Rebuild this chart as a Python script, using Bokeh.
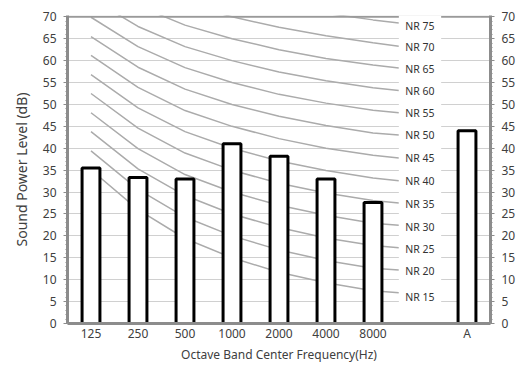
from bokeh.plotting import figure
from bokeh.models import Range1d, LinearAxis, FixedTicker
from bokeh.embed import file_html
from bokeh.resources import INLINE
from bokeh.core.properties import value

# ---- data ----
categories = ["125", "250", "500", "1000", "2000", "4000", "8000", "", "A"]
bar_categories = ["125", "250", "500", "1000", "2000", "4000", "8000", "A"]
bar_values = [35.5, 33.3, 33.0, 41.0, 38.2, 33.0, 27.6, 44.0]

nr_bands = ["125", "250", "500", "1000", "2000", "4000", "8000"]
nr_names = ["NR 15", "NR 20", "NR 25", "NR 30", "NR 35", "NR 40", "NR 45",
            "NR 50", "NR 55", "NR 60", "NR 65", "NR 70", "NR 75"]
nr15 = [35.1, 26.0, 19.4, 15.0, 11.7, 9.3, 7.5]
nr20 = [39.4, 30.6, 24.3, 20.0, 16.8, 14.4, 12.6]
nr25 = [43.8, 35.3, 29.2, 25.0, 21.9, 19.5, 17.8]
nr30 = [48.1, 39.9, 34.0, 30.0, 27.0, 24.7, 22.9]
nr35 = [52.5, 44.6, 38.9, 35.0, 32.0, 29.8, 28.1]
nr40 = [56.8, 49.2, 43.8, 40.0, 37.1, 34.9, 33.2]
nr45 = [61.2, 53.9, 48.6, 45.0, 42.2, 40.0, 38.4]
nr50 = [65.5, 58.5, 53.5, 50.0, 47.3, 45.2, 43.5]
nr55 = [69.9, 63.2, 58.4, 55.0, 52.3, 50.3, 48.7]
nr60 = [74.2, 67.8, 63.2, 60.0, 57.4, 55.4, 53.8]
nr65 = [78.6, 72.5, 68.1, 65.0, 62.5, 60.5, 59.0]
nr70 = [82.9, 77.1, 73.0, 70.0, 67.6, 65.7, 64.1]
nr75 = [87.3, 81.8, 77.9, 75.0, 72.6, 70.8, 69.3]
nr_curves = [nr15, nr20, nr25, nr30, nr35, nr40, nr45, nr50, nr55, nr60, nr65, nr70, nr75]
nr_end = [7.0, 12.2, 17.3, 22.4, 27.5, 32.6, 37.8, 43.0, 48.1, 53.2, 58.3, 63.3, 68.6]
nr_label_y = [6.1, 11.9, 17.0, 22.1, 27.3, 32.5, 37.7, 43.0, 48.0, 53.0, 58.0, 63.0, 68.0]

y_ticks = list(range(0, 71, 5))
y_minor = list(range(0, 71))

FONT = "Noto Sans"
TXT = "#404040"
AX = "#8c8c8c"

idx = {c: i for i, c in enumerate(categories)}
label_x = idx[""]

p = figure(width=518, height=365, x_range=Range1d(-0.5, 8.5), y_range=Range1d(0, 70.3),
           output_backend="svg", toolbar_location=None,
           min_border_left=67, min_border_right=28, min_border_top=15, min_border_bottom=41)
p.outline_line_color = None
p.background_fill_color = "white"
p.border_fill_color = "white"
p.xgrid.visible = False
p.ygrid.ticker = FixedTicker(ticks=y_ticks)
p.ygrid.grid_line_color = "#d0d0d0"
p.ygrid.grid_line_width = 1

ya = p.yaxis[0]
ya.ticker = FixedTicker(ticks=y_ticks, minor_ticks=y_minor)
ya.axis_label = "Sound Power Level (dB)"

ra = LinearAxis(ticker=FixedTicker(ticks=y_ticks, minor_ticks=y_minor))
p.add_layout(ra, "right")
for ax in [ya, ra]:
    ax.axis_line_color = AX
    ax.axis_line_width = 3
    ax.major_tick_line_color = AX
    ax.major_tick_line_width = 1
    ax.major_tick_out = 4
    ax.major_tick_in = 0
    ax.minor_tick_line_color = AX
    ax.minor_tick_out = 2
    ax.minor_tick_in = 0
    ax.major_label_standoff = 7
    ax.major_label_text_font = FONT
    ax.major_label_text_font_size = "12px"
    ax.major_label_text_color = TXT
ya.axis_label_text_font = FONT
ya.axis_label_text_font_size = "14px"
ya.axis_label_text_font_style = "normal"
ya.axis_label_text_color = TXT
ya.axis_label_standoff = 9

xa = p.xaxis[0]
xa.ticker = FixedTicker(ticks=[idx[c] for c in bar_categories])
xa.major_label_overrides = {idx[c]: c for c in bar_categories}
xa.axis_line_color = AX
xa.axis_line_width = 3
xa.major_tick_line_color = None
xa.minor_tick_line_color = None
xa.major_tick_out = 0
xa.major_tick_in = 0
xa.minor_tick_out = 0
xa.minor_tick_in = 0
xa.major_label_standoff = 1
xa.major_label_text_font = FONT
xa.major_label_text_font_size = "12px"
xa.major_label_text_color = TXT
xa.axis_label = "Octave Band Center Frequency(Hz)"
xa.axis_label_text_font = FONT
xa.axis_label_text_font_size = "12px"
xa.axis_label_text_font_style = "normal"
xa.axis_label_text_color = TXT
xa.axis_label_standoff = 1

# NR curves
band_x = [idx[b] for b in nr_bands]
end_x = idx["8000"] + 0.55
for vals, endv in zip(nr_curves, nr_end):
    p.line(x=band_x + [end_x], y=vals + [endv], line_color="#ababab", line_width=1.5)

# top border
p.line(x=[-0.5, 8.5], y=[70, 70], line_color="#9a9a9a", line_width=2)

# white label column
p.quad(left=[label_x - 0.45], right=[label_x + 0.45], bottom=[0.6], top=[70.3],
       fill_color="white", line_color=None)

p.text(x=[label_x] * len(nr_names), y=nr_label_y, text=nr_names,
       text_align="center", text_baseline="middle",
       text_font=value(FONT), text_font_size="10.5px", text_color="#333333")

# bars
p.vbar(x=[idx[c] for c in bar_categories], top=bar_values, bottom=0, width=0.38,
       fill_color="white", line_color="black", line_width=3)

open("out.html", "w").write(file_html(p, INLINE))
